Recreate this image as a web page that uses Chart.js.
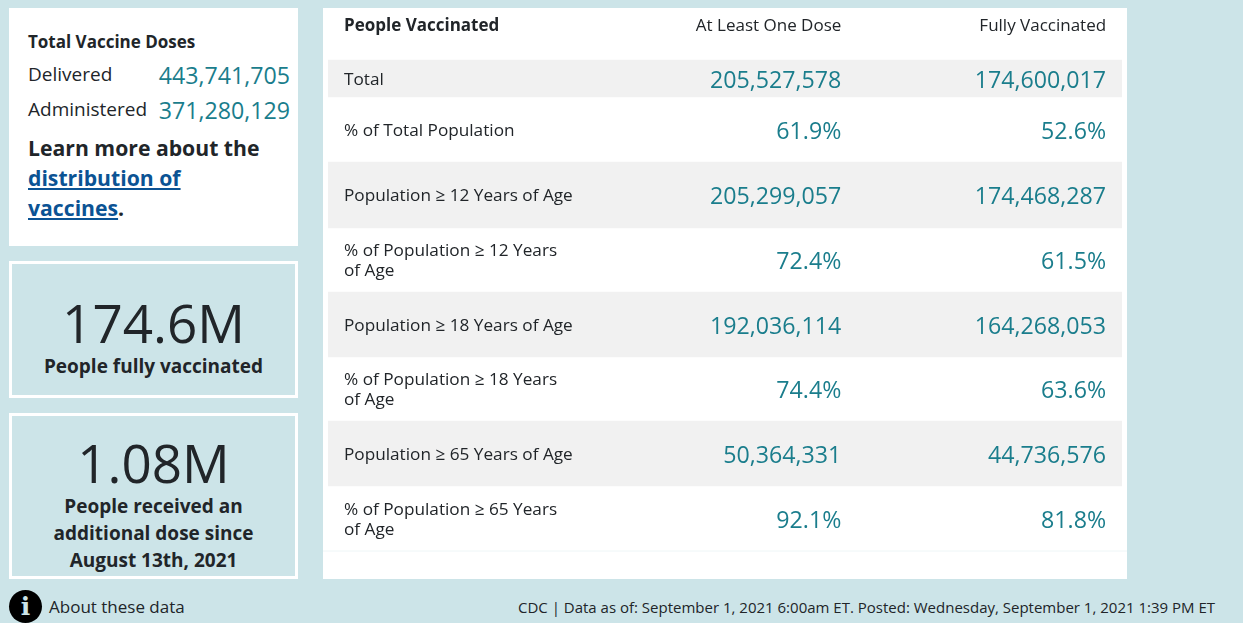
<!DOCTYPE html>
<html>
<head>
<meta charset="utf-8">
<title>COVID-19 Vaccinations</title>
<script src="https://cdn.jsdelivr.net/npm/chart.js@4"></script>
<style>
  html, body { margin: 0; padding: 0; }
  body { width: 1243px; height: 623px; background: #cce4e8; overflow: hidden; position: relative;
         font-family: "Open Sans", sans-serif; color: #212529; }
  .box { position: absolute; box-sizing: border-box; }
  .abs { position: absolute; white-space: nowrap; }
  #doses { left: 9px; top: 8px; width: 289px; height: 238px; background: #fff; }
  #doses .num { color: #1a7d8c; font-size: 23.2px; right: 8px; }
  #doses .lab { font-size: 19px; left: 19px; }
  #learn { left: 19px; top: 125px; font-size: 21.2px; line-height: 30px; font-weight: 700; }
  #learn a { color: #0b5394; text-decoration: underline; }
  .card { left: 9px; width: 289px; border: 3px solid #fff; text-align: center; }
  .card .big { font-size: 53px; line-height: 60px; color: #212529; }
  .card .sub { font-size: 19px; line-height: 27px; font-weight: 700; }
  #fully { top: 261px; height: 137px; }
  #extra { top: 413px; height: 166px; }
  #tablePanel { left: 323px; top: 8px; width: 804px; height: 571px; background: #fff; }
  #icon { left: 9px; top: 590px; width: 33px; height: 33px; border-radius: 50%; background: #000;
          color: #cce4e8; font: 900 25px/33px "DejaVu Serif", serif; text-align: center; }
  #about { left: 49px; top: 595px; font-size: 17px; }
  #footer { right: 28px; top: 597px; font-size: 15px; }
</style>
</head>
<body>
<div class="box" id="doses">
  <div class="abs" style="left:19px;top:22px;font-size:17px;font-weight:700">Total Vaccine Doses</div>
  <div class="abs lab" style="top:53px">Delivered</div>
  <div class="abs num" style="top:51px" id="delivered"></div>
  <div class="abs lab" style="top:88px">Administered</div>
  <div class="abs num" style="top:86px" id="administered"></div>
  <div class="abs" id="learn">Learn more about the<br><a href="#">distribution of</a><br><a href="#">vaccines</a>.</div>
</div>
<div class="box card" id="fully">
  <div class="big" style="margin-top:29px">174.6M</div>
  <div class="sub" style="margin-top:0">People fully vaccinated</div>
</div>
<div class="box card" id="extra">
  <div class="big" style="margin-top:17px">1.08M</div>
  <div class="sub">People received an<br>additional dose since<br>August 13th, 2021</div>
</div>
<div class="box" id="tablePanel"><canvas id="tableChart"></canvas></div>
<div class="box" id="icon">i</div>
<div class="abs" id="about">About these data</div>
<div class="abs" id="footer">CDC | Data as of: September 1, 2021 6:00am ET. Posted: Wednesday, September 1, 2021 1:39 PM ET</div>

<script>
// Data
const deliveredDoses = 443741705;
const administeredDoses = 371280129;
const columnLabels = ['People Vaccinated', 'At Least One Dose', 'Fully Vaccinated'];
const rowLabels = [
  ['Total'],
  ['% of Total Population'],
  ['Population \u2265 12 Years of Age'],
  ['% of Population \u2265 12 Years', 'of Age'],
  ['Population \u2265 18 Years of Age'],
  ['% of Population \u2265 18 Years', 'of Age'],
  ['Population \u2265 65 Years of Age'],
  ['% of Population \u2265 65 Years', 'of Age'],
];
const atLeastOneDose = [205527578, 61.9, 205299057, 72.4, 192036114, 74.4, 50364331, 92.1];
const fullyVaccinated = [174600017, 52.6, 174468287, 61.5, 164268053, 63.6, 44736576, 81.8];

// Table layout: height of each row in panel pixels
const HEADER_HEIGHT = 52;
const rowHeights = [37, 65, 66, 64, 65, 64, 65, 65];
const PANEL_HEIGHT = 571;
const TEXT = '#212529';
const TEAL = '#1a7d8c';
const STRIPE = '#f1f1f1';

// Format helpers
function formatValue(v) {
  return v < 100 ? v.toFixed(1) + '%' : v.toLocaleString('en-US');
}

document.getElementById('delivered').textContent = formatValue(deliveredDoses);
document.getElementById('administered').textContent = formatValue(administeredDoses);

// Row edges, top to bottom
const rowEdges = [HEADER_HEIGHT];
rowHeights.forEach(h => rowEdges.push(rowEdges[rowEdges.length - 1] + h));

// Every other row gets a grey band
const stripes = rowHeights.map((h, i) => ({
  type: 'bar',
  data: [[rowEdges[i], rowEdges[i + 1]]],
  backgroundColor: i % 2 === 0 ? STRIPE : 'rgba(0,0,0,0)',
  barPercentage: 1,
  categoryPercentage: 1,
  grouped: false,
}));

// Draw the header and the cells through the scales
const tableText = {
  id: 'tableText',
  afterDatasetsDraw(chart) {
    const { ctx, scales: { x, y } } = chart;
    const width = x.right - x.left;
    const col0 = x.left + 16;
    const col1 = x.left + width * 0.6465;
    const col2 = x.left + width * 0.98;

    ctx.save();
    ctx.textBaseline = 'middle';

    // header
    const headY = y.getPixelForValue(18);
    ctx.fillStyle = TEXT;
    ctx.textAlign = 'left';
    ctx.font = '700 17px "Open Sans"';
    ctx.fillText(columnLabels[0], col0, headY);
    ctx.font = '400 17px "Open Sans"';
    ctx.textAlign = 'right';
    ctx.fillText(columnLabels[1], col1, headY);
    ctx.fillText(columnLabels[2], col2, headY);

    // rows
    rowLabels.forEach((lines, i) => {
      const mid = y.getPixelForValue((rowEdges[i] + rowEdges[i + 1]) / 2);
      ctx.fillStyle = TEXT;
      ctx.textAlign = 'left';
      ctx.font = '400 17.2px "Open Sans"';
      lines.forEach((line, n) => {
        ctx.fillText(line, col0, mid + 1.5 + (n - (lines.length - 1) / 2) * 20);
      });
      ctx.fillStyle = TEAL;
      ctx.textAlign = 'right';
      ctx.font = '400 23.2px "Open Sans"';
      ctx.fillText(formatValue(atLeastOneDose[i]), col1, mid + 2.5);
      ctx.fillText(formatValue(fullyVaccinated[i]), col2, mid + 2.5);
    });

    // faint rule under the last row
    const ruleY = y.getPixelForValue(rowEdges[rowEdges.length - 1]);
    ctx.strokeStyle = '#eef6f7';
    ctx.beginPath();
    ctx.moveTo(0, ruleY);
    ctx.lineTo(chart.width, ruleY);
    ctx.stroke();
    ctx.restore();
  },
};

new Chart(document.getElementById('tableChart'), {
  type: 'bar',
  data: { labels: ['rows'], datasets: stripes },
  plugins: [tableText],
  options: {
    responsive: true,
    maintainAspectRatio: false,
    animation: false,
    layout: { padding: { left: 5, right: 5 } },
    plugins: { legend: { display: false }, tooltip: { enabled: false } },
    scales: {
      x: { display: false },
      y: { display: false, reverse: true, min: 0, max: PANEL_HEIGHT },
    },
  },
});
</script>
</body>
</html>
